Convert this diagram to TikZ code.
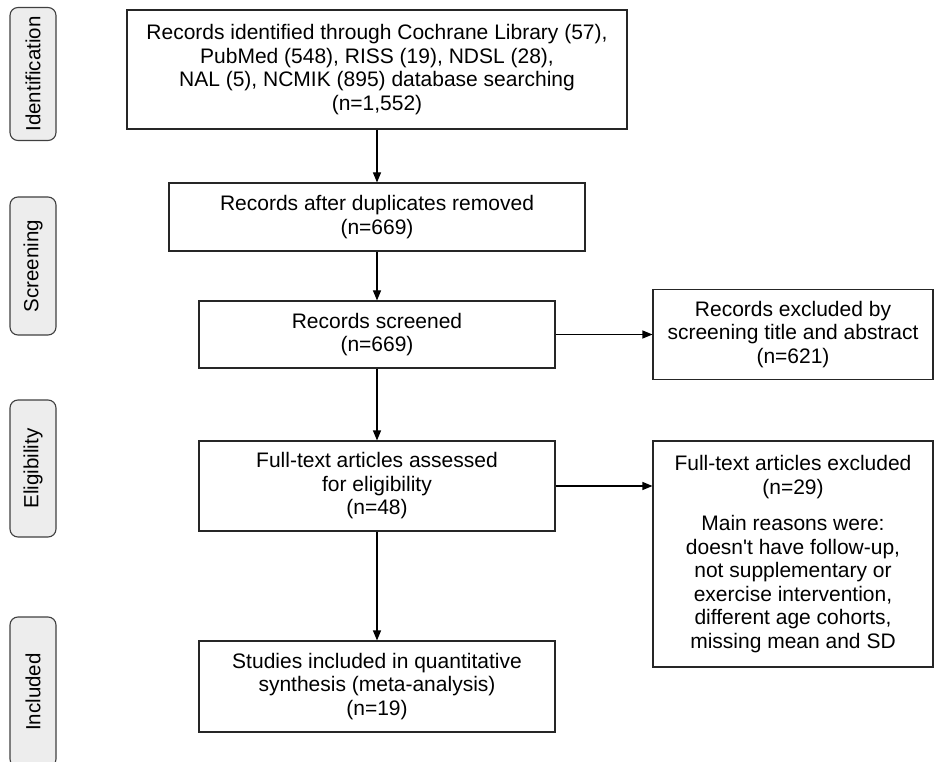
\documentclass[tikz,border=0pt]{standalone}
\usepackage{fontspec}
\setmainfont{Liberation Sans}
\usetikzlibrary{arrows.meta}
\tikzset{flowbox/.style={draw=black!85, line width=1.1pt, align=center, inner sep=0pt, font=\fontsize{21}{23.5}\selectfont},
  phase/.style={draw=black!75, fill=black!7, rounded corners=8pt, line width=1.1pt, minimum height=46pt, inner sep=0pt, rotate=90, font=\fontsize{20.5}{23}\selectfont},
  flow/.style={-{Triangle[length=10pt,width=8pt]}, line width=1.1pt}}

\begin{document}
\begin{tikzpicture}[x=1pt,y=-1pt]
  \clip (0,0) rectangle (935,762);
  \begin{scope}
   \node[phase, minimum width=133pt] (idlbl) at (33,74) {Identification};
   \node[phase, minimum width=138pt] (scrlbl) at (33,266) {Screening};
   \node[phase, minimum width=137pt] (eliglbl) at (33,468.5) {Eligibility};
   \node[phase, minimum width=150pt] (incllbl) at (33,692) {Included};
  \end{scope}
  \begin{scope}
   \node[flowbox, minimum width=500pt, minimum height=119pt] (ident) at (377,69.5)
     {Records identified through Cochrane Library (57),\\ PubMed (548), RISS (19), NDSL (28),\\ NAL (5), NCMIK (895) database searching\\ (n=1,552)};
   \node[flowbox, minimum width=416pt, minimum height=68pt] (dupl) at (377,217)
     {Records after duplicates removed\\ (n=669)};
   \node[flowbox, minimum width=356pt, minimum height=67pt] (screen) at (377,334.5)
     {Records screened\\ (n=669)};
   \node[flowbox, minimum width=280pt, minimum height=90pt] (exscreen) at (793,334.5)
     {Records excluded by\\ screening title and abstract\\ (n=621)};
   \node[flowbox, minimum width=356pt, minimum height=90pt] (fulltext) at (377,486)
     {Full-text articles assessed\\ for eligibility\\ (n=48)};
   \node[flowbox, minimum width=280pt, minimum height=226pt] (exfull) at (793,554)
     {Full-text articles excluded\\ (n=29)\\[13pt] Main reasons were:\\ doesn\textquotesingle t have follow-up,\\ not supplementary or\\ exercise intervention,\\ different age cohorts,\\ missing mean and SD};
   \node[flowbox, minimum width=356pt, minimum height=91pt] (incl) at (377,686.5)
     {Studies included in quantitative\\ synthesis (meta-analysis)\\ (n=19)};
  \end{scope}
  \draw[flow] (ident) -- (dupl);
  \draw[flow] (dupl) -- (screen);
  \draw[flow] (screen) -- (fulltext);
  \draw[flow] (fulltext) -- (incl);
  \draw[flow] (screen.east) -- (screen.east -| exscreen.west);
  \draw[flow] (fulltext.east) -- (fulltext.east -| exfull.west);
\end{tikzpicture}
\end{document}
